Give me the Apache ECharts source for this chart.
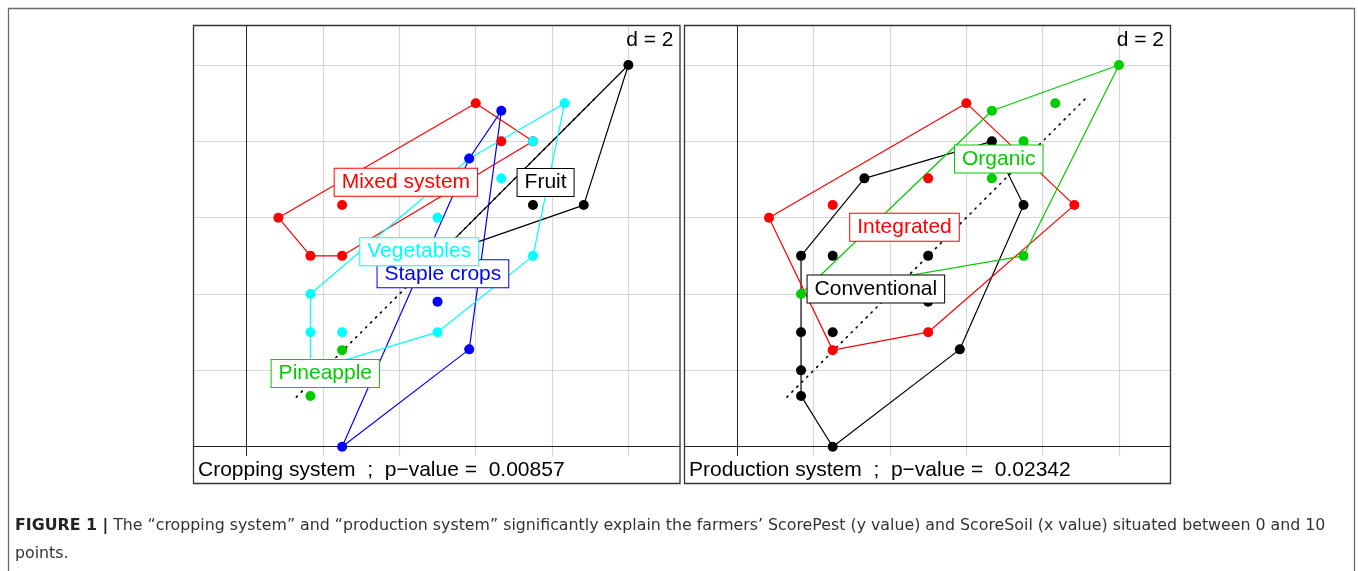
<!DOCTYPE html>
<html>
<head>
<meta charset="utf-8">
<script src="https://cdn.jsdelivr.net/npm/echarts@6/dist/echarts.min.js"></script>
<style>
  html, body { margin: 0; padding: 0; background: #fff; }
  #chart { width: 1358px; height: 571px; }
</style>
</head>
<body>
<div id="chart"></div>
<script>
// grid step of the s.class plots
const gridTicks = [2, 4, 6, 8, 10]
const refLine = [1.3, 9.2]

// left panel: cropping system
const cropNames = ['Fruit', 'Mixed system', 'Pineapple', 'Staple crops', 'Vegetables']
const cropColors = ['#000000', '#FF0000', '#00CD00', '#0000FF', '#00FFFF']
const fruitPts = [[10, 10], [8.83, 6.33], [7.5, 6.33], [5, 5]]
const mixedPts = [[6, 9], [6.67, 8], [7.5, 8], [3.33, 7.03], [5, 7.03], [2.5, 6.33], [0.83, 6], [1.67, 5], [2.5, 5]]
const pineapplePts = [[2.5, 2.53], [1.67, 1.33]]
const staplePts = [[6.67, 8.8], [5.83, 7.55], [5, 3.8], [5.83, 2.55], [2.5, 0]]
const vegPts = [[8.33, 9], [7.5, 8], [5.83, 7.55], [6.67, 7.03], [5, 6], [7.5, 5], [1.67, 4], [1.67, 3], [2.5, 3], [5, 3], [1.67, 2]]
const cropCenters = [[7.83, 6.92], [4.17, 6.93], [2.06, 1.92], [5.14, 4.53], [4.52, 5.11]]
const cropP = '0.00857'

// right panel: production system
const prodNames = ['Conventional', 'Integrated', 'Organic']
const prodColors = ['#000000', '#FF0000', '#00CD00']
const convPts = [[6.67, 8], [3.33, 7.03], [7.5, 6.33], [1.67, 5], [2.5, 5], [5, 5], [5, 3.8], [1.67, 3], [2.5, 3], [5.83, 2.55], [1.67, 2], [1.67, 1.33], [2.5, 0]]
const integPts = [[6, 9], [5, 7.03], [2.5, 6.33], [8.83, 6.33], [0.83, 6], [5, 3], [2.5, 2.53]]
const organicPts = [[10, 10], [6.67, 8.8], [8.33, 9], [7.5, 8], [5.83, 7.55], [6.67, 7.03], [7.5, 5], [1.67, 4]]
const prodCenters = [[3.63, 4.13], [4.38, 5.75], [6.85, 7.54]]
const prodP = '0.02342'

const font = 'Liberation Sans, Arial, Helvetica, sans-serif'
const capFont = 'DejaVu Sans, sans-serif'

// convex hull (monotone chain), closed for drawing
function hull (pts) {
  const p = pts.slice().sort((a, b) => a[0] - b[0] || a[1] - b[1])
  const cross = (o, a, b) => (a[0] - o[0]) * (b[1] - o[1]) - (a[1] - o[1]) * (b[0] - o[0])
  const lower = []
  for (const q of p) {
    while (lower.length >= 2 && cross(lower[lower.length - 2], lower[lower.length - 1], q) <= 0) lower.pop()
    lower.push(q)
  }
  const upper = []
  for (let i = p.length - 1; i >= 0; i--) {
    const q = p[i]
    while (upper.length >= 2 && cross(upper[upper.length - 2], upper[upper.length - 1], q) <= 0) upper.pop()
    upper.push(q)
  }
  const h = lower.slice(0, -1).concat(upper.slice(0, -1))
  h.push(h[0])
  return h
}

// pixel layout of the two panels (origin position and px per unit)
const scale = 38.17
const plotTop = 25, plotBottom = 456, boxBottom = 484, y0 = 446.7
const panels = [
  { left: 193, right: 680.5, x0: 246.7, title: 'Cropping system', p: cropP,
    names: cropNames, colors: cropColors, pts: [fruitPts, mixedPts, pineapplePts, staplePts, vegPts],
    centers: cropCenters, order: [0, 1, 2, 4, 3] },
  { left: 684, right: 1171, x0: 737.3, title: 'Production system', p: prodP,
    names: prodNames, colors: prodColors, pts: [convPts, integPts, organicPts],
    centers: prodCenters, order: [0, 1, 2] }
]

const grids = [], xAxes = [], yAxes = [], series = [], graphics = []
panels.forEach((pn, g) => {
  grids.push({ left: pn.left, top: plotTop, width: pn.right - pn.left, height: plotBottom - plotTop })
  xAxes.push({ type: 'value', gridIndex: g, show: false,
    min: (pn.left - pn.x0) / scale, max: (pn.right - pn.x0) / scale })
  yAxes.push({ type: 'value', gridIndex: g, show: false,
    min: (y0 - plotBottom) / scale, max: (y0 - plotTop) / scale })

  // grid and origin lines
  series.push({
    type: 'line', xAxisIndex: g, yAxisIndex: g, data: [], silent: true, z: 1,
    markLine: {
      z: 1, symbol: 'none', silent: true, label: { show: false }, animation: false,
      data: gridTicks.map(v => ({ xAxis: v, lineStyle: { color: '#d6d6d6', width: 1.2, type: 'solid' } }))
        .concat(gridTicks.map(v => ({ yAxis: v, lineStyle: { color: '#d6d6d6', width: 1.2, type: 'solid' } })))
        .concat([{ xAxis: 0, lineStyle: { color: '#222', width: 1, type: 'solid' } },
                 { yAxis: 0, lineStyle: { color: '#222', width: 1, type: 'solid' } }])
    }
  })

  // dotted reference line
  series.push({
    type: 'line', xAxisIndex: g, yAxisIndex: g, silent: true, symbol: 'none', z: 2,
    data: [[refLine[0], refLine[0]], [refLine[1], refLine[1]]],
    lineStyle: { color: '#000', width: 1.6, type: [1.4, 5.6], cap: 'round' }
  })

  // hulls
  pn.pts.forEach((pts, k) => {
    if (pts.length < 3) return
    series.push({
      type: 'line', xAxisIndex: g, yAxisIndex: g, silent: true, symbol: 'none', z: 3,
      data: hull(pts), lineStyle: { color: pn.colors[k], width: 1.2 }
    })
  })

  // points
  pn.order.forEach(k => {
    series.push({
      type: 'scatter', xAxisIndex: g, yAxisIndex: g, z: 4, symbolSize: 10,
      data: pn.pts[k], itemStyle: { color: pn.colors[k], opacity: 1 }
    })
  })

  // class labels at the centres
  pn.names.forEach((nm, k) => {
    series.push({
      type: 'scatter', xAxisIndex: g, yAxisIndex: g, z: 6, symbolSize: 0,
      data: [pn.centers[k]],
      itemStyle: { opacity: 1 },
      label: {
        show: true, position: 'inside', formatter: nm, color: pn.colors[k],
        fontFamily: font, fontSize: 21, lineHeight: 21,
        backgroundColor: '#fff', borderColor: pn.colors[k], borderWidth: 1, padding: [3, 7, 3, 7]
      }
    })
  })

  // box, "d = 2" and the sub title
  graphics.push({
    type: 'rect', z: 20, shape: { x: pn.left, y: plotBottom, width: pn.right - pn.left, height: boxBottom - plotBottom },
    style: { fill: '#fff', stroke: null }
  })
  graphics.push({
    type: 'rect', z: 22, shape: { x: pn.left + 0.5, y: plotTop + 0.5, width: pn.right - pn.left - 1, height: boxBottom - plotTop - 1 },
    style: { fill: null, stroke: '#333', lineWidth: 1.3 }
  })
  graphics.push({
    type: 'text', z: 22, x: pn.right - 7, y: 40,
    style: { text: 'd = 2', fill: '#000', font: '21px ' + font, textAlign: 'right', textVerticalAlign: 'middle' }
  })
  graphics.push({
    type: 'text', z: 22, x: pn.left + 5, y: 470,
    style: { text: pn.title + '  ;  p\u2212value =  ' + pn.p, fill: '#000', font: '21px ' + font, textVerticalAlign: 'middle' }
  })
})

// outer frame and caption
graphics.push({
  type: 'rect', z: 0, shape: { x: 8.5, y: 8.5, width: 1346, height: 600 },
  style: { fill: null, stroke: '#6a6a6a', lineWidth: 1.3 }
})
graphics.push({
  type: 'text', z: 22, x: 15, y: 526,
  style: {
    text: '{b|FIGURE 1 |} The \u201ccropping system\u201d and \u201cproduction system\u201d significantly explain the farmers\u2019 ScorePest (y value) and ScoreSoil (x value) situated between 0 and 10',
    font: '15.8px ' + capFont, fill: '#333', textVerticalAlign: 'middle',
    rich: { b: { fontWeight: 'bold', fontSize: 15.8, fontFamily: capFont, fill: '#222' } }
  }
})
graphics.push({
  type: 'text', z: 22, x: 15, y: 554,
  style: { text: 'points.', font: '15.8px ' + capFont, fill: '#333', textVerticalAlign: 'middle' }
})

const myChart = echarts.init(document.getElementById('chart'))
myChart.setOption({
  animation: false,
  backgroundColor: '#fff',
  grid: grids,
  xAxis: xAxes,
  yAxis: yAxes,
  series: series,
  graphic: graphics
})
</script>
</body>
</html>
